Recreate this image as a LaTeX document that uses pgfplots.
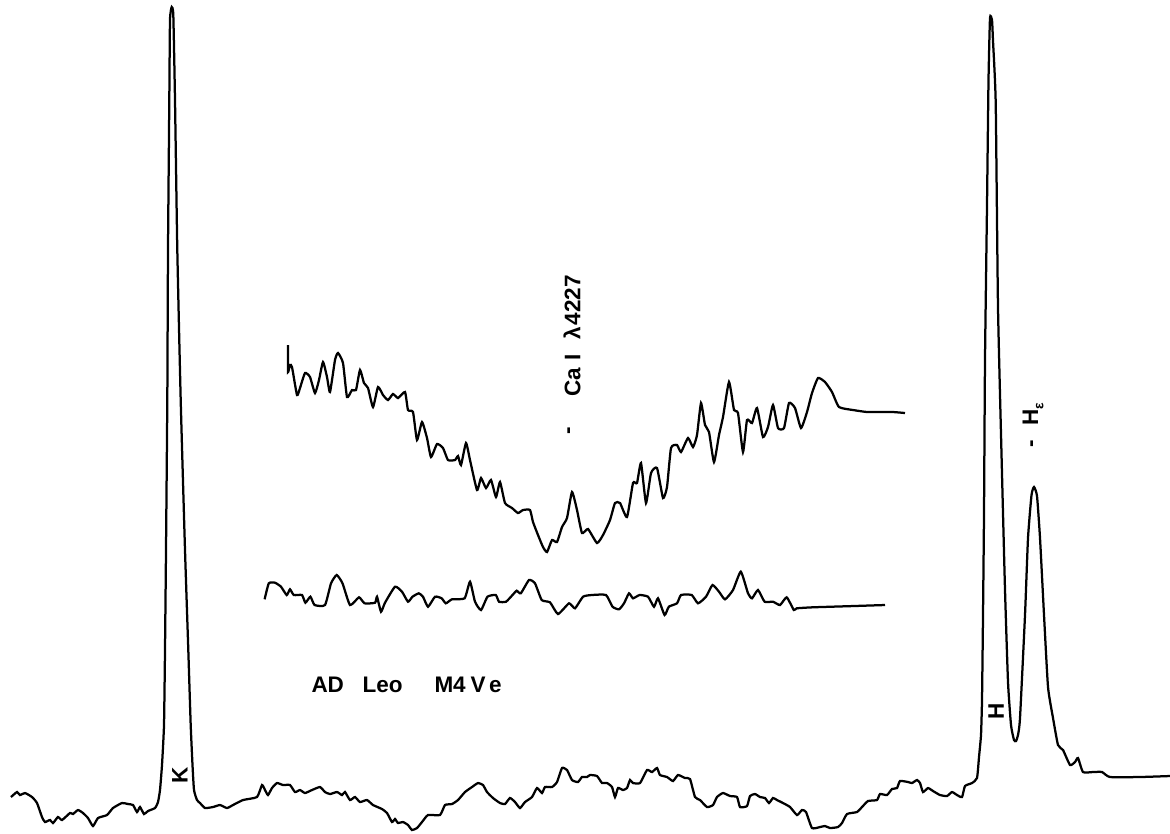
\documentclass[border=0pt]{standalone}
\usepackage{fontspec}
\setmainfont{Liberation Sans}
\usepackage{pgfplots}
\pgfplotsset{compat=1.18}
\tikzset{lab/.style={font=\fontsize{9}{10}\selectfont\bfseries,inner sep=0pt}}
\begin{document}
\begin{tikzpicture}
\useasboundingbox (0,0) rectangle (468pt,333.2pt);
\begin{axis}[at={(0,0)},anchor=south west,
  width=468pt,height=333.2pt,scale only axis,
  xmin=0,xmax=1170,ymin=0,ymax=833,y dir=reverse,
  hide axis,clip=false]
% main spectrum
\addplot[black,line width=0.9pt,smooth,tension=0.3] coordinates {
(11,797) (17,792) (20,795) (25,793) (32,797) (37,803) (42,817) (45,822) (50,820) (53,823) (58,817) (62,820) (70,813) (73,814) (78,810) (83,813) (88,818) (93,826) (98,818) (107,815) (113,808) (122,803) (128,804) (133,805) (137,812) (140,807) (144,814) (148,811) (155,808) (158,802) (160,790) (162,765) (164,725) (165,650) (166,550) (167.3,400) (168,250) (169.3,100) (170,20) (171.7,7) (173.3,15) (175,100) (177.3,250) (180.7,400) (185,550) (188.3,650) (190.7,725) (192.5,765) (194,790) (197,800) (200,803) (205,808) (213,807) (220,805) (227,808) (233,805) (243,800) (257,797) (262,785) (265,790) (268,795) (272,788) (277,783) (283,785) (290,785) (295,792) (300,790) (305,793) (312,790) (320,787) (325,792) (330,794) (337,792) (342,795) (345,792) (350,800) (355,797) (360,802) (367,800) (373,805) (382,809) (387,813) (392,822) (395,819) (398,823) (403,822) (408,825) (412,830) (417,828) (422,822) (428,815) (440,815) (445,805) (452,804) (458,800) (465,792) (472,787) (478,783) (483,785) (487,792) (493,798) (500,803) (505,804) (510,798) (515,802) (520,808) (525,802) (532,797) (537,788) (542,793) (545,787) (552,787) (557,782) (562,768) (567,770) (572,780) (578,782) (582,777) (587,777) (590,775) (597,776) (602,783) (607,783) (612,787) (615,797) (618,788) (623,790) (627,788) (630,780) (633,783) (640,783) (647,770) (652,772) (657,768) (660,775) (667,777) (673,781) (678,775) (685,778) (690,779) (695,797) (700,800) (707,807) (713,805) (717,797) (723,793) (730,796) (737,797) (740,807) (747,806) (750,796) (755,794) (760,797) (765,798) (769,803) (773,798) (777,800) (783,803) (790,807) (797,815) (802,810) (806,812) (812,828) (820,827) (825,826) (830,828) (838,827) (842,823) (847,814) (857,812) (862,807) (868,801) (877,800) (880,794) (887,795) (892,789) (897,788) (900,781) (908,782) (912,783) (917,780) (920,783) (923,792) (928,788) (933,791) (940,795) (947,796) (952,792) (957,795) (962,797) (965,786) (972,783) (977,778) (979,757) (981,735) (982,700) (983,615) (984,513) (985,359) (987,205) (988.5,80) (990,18) (992,20) (993,41) (995.7,103) (998,308) (1001.7,462) (1005,590) (1008,682) (1011,725) (1014,740) (1016,741) (1018,735) (1020,718) (1025,615) (1028,538) (1031.5,495) (1034,487) (1037,496) (1040,538) (1044,615) (1048,687) (1053,718) (1058,745) (1063,750) (1070,765) (1075,762) (1078,758) (1083,772) (1093,772) (1102,772) (1110,777) (1140,777) (1170,776)
};
% Ca I region
\addplot[black,line width=0.9pt,smooth,tension=0.3] coordinates {
(288,345) (288,372) (290,365) (292,367) (297,395) (300,388) (305,373) (310,377) (315,393) (319,380) (323,362) (327,377) (330,392) (335,360) (338,353) (343,363) (347,397) (352,390) (356,390) (360,370) (364,383) (368,388) (373,407) (378,387) (383,395) (388,400) (393,394) (398,398) (405,392) (408,410) (413,412) (417,440) (422,422) (427,438) (431,457) (437,444) (443,448) (448,460) (455,460) (458,456) (461,465) (466,443) (470,460) (477,490) (481,478) (486,488) (491,480) (496,497) (500,482) (505,503) (512,508) (518,513) (523,510) (530,510) (533,522) (538,535) (543,547) (547,552) (552,540) (557,542) (562,527) (567,518) (572,492) (577,510) (582,533) (588,529) (597,543) (603,535) (610,520) (615,503) (620,503) (627,517) (633,483) (637,483) (641,463) (646,503) (651,473) (657,468) (663,498) (667,487) (671,448) (677,445) (681,452) (688,438) (693,447) (697,435) (701,403) (705,425) (709,432) (714,462) (719,435) (723,417) (729,382) (734,410) (738,413) (743,452) (747,420) (752,423) (757,408) (763,437) (768,427) (773,405) (778,428) (784,428) (789,403) (795,408) (801,428) (807,412) (812,393) (818,378) (825,382) (832,392) (839,407) (853,410) (867,412) (880,412) (893,412) (905,413)
};
% lower trace
\addplot[black,line width=0.9pt,smooth,tension=0.3] coordinates {
(264.6,599.3) (268.8,583.3) (275,582.7) (281,586.7) (286.7,595) (290,589.3) (293.8,595) (302,595) (305.4,602.7) (310.4,596.7) (314.6,605) (325,605) (331,583.3) (336.7,575) (342.5,583.3) (350,605) (359,597.3) (364.6,603.3) (375,602.7) (377,596.7) (381,611.7) (385,602.7) (395,586.7) (402,591.7) (408,601.7) (412.5,596.7) (418.8,593.3) (423,596.7) (428,606.7) (435,596.7) (441.7,598.3) (445.8,603.3) (452,599.3) (464.6,598.3) (470,581.7) (475,601.7) (481,610) (487.5,596.7) (495.8,595) (499,601.7) (506,601.7) (512.5,595) (516.7,590.7) (520.8,593.3) (529,580) (535,583.3) (541.7,600) (550,602.3) (558,614) (569,603.3) (575,608.3) (583,596.7) (591.7,595) (606,595) (612.5,606.7) (619,609.3) (624,603.3) (629,593.3) (633,598.3) (639.6,595) (648,596.7) (654,606.7) (658,598.3) (664.6,615) (668.8,606.7) (677,603.3) (681,595) (691.7,595) (698,603.3) (706,596.7) (712.5,585) (719,591.7) (725,599.3) (733,590) (740.8,571.7) (748,593.3) (752,598.3) (758,590) (764.6,601.7) (773,601.7) (780,605) (786.7,597.3) (793.8,610) (796.7,608.3) (812.5,607.3) (854,606) (885,605)
};
% labels
\node[lab,rotate=90] at (axis cs:180,775) {K};
\node[lab,rotate=90] at (axis cs:996,711) {H};
\node[lab,rotate=90] at (axis cs:1034,444) {-};
\node[lab,rotate=90,anchor=south west] at (axis cs:1044,426) {H\raisebox{-0.45ex}{\fontsize{5.5}{6}\selectfont ε}};
\node[lab,rotate=90] at (axis cs:571,431) {-};
\node[lab,rotate=90,anchor=south west] at (axis cs:581,397) {Ca\hspace{3pt}I\hspace{6pt}λ\hspace{0.5pt}4227};
\node[lab,anchor=base west] at (axis cs:311,692) {AD};
\node[lab,anchor=base west] at (axis cs:362,692) {Leo};
\node[lab,anchor=base west] at (axis cs:434,692) {M4};
\node[lab,anchor=base west] at (axis cs:470,692) {V\hspace{1.5pt}e};
\end{axis}
\end{tikzpicture}
\end{document}
